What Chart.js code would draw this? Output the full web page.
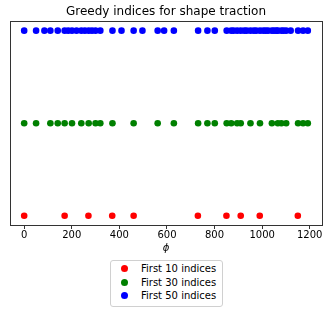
<!DOCTYPE html>
<html>
<head>
<meta charset="utf-8">
<script src="https://cdn.jsdelivr.net/npm/chart.js@4/dist/chart.umd.min.js"></script>
<style>
  html, body { margin: 0; padding: 0; background: #fff; }
  #wrap { position: relative; width: 333px; height: 311px; }
  #legend {
    position: absolute; left: 110px; top: 260px; width: 111px;
    border: 1px solid #d0d0d0; border-radius: 3px; background: #fff;
    padding: 1px 0 3px 0;
    font: 10px "DejaVu Sans", sans-serif; color: #000;
  }
  .leg-row { display: flex; align-items: center; height: 13.5px; }
  .leg-dot { width: 7px; height: 7px; border-radius: 50%; margin-left: 10px; margin-right: 13px; }
</style>
</head>
<body>
<div id="wrap">
  <canvas id="chart" width="333" height="311"></canvas>
  <div id="legend"></div>
</div>
<script>
// Greedy indices (phi values) selected for each subset
const first10 = [0, 170, 270, 370, 460, 730, 850, 910, 990, 1150];
const first30 = [0, 50, 110, 141, 170, 201, 240, 271, 300, 320, 371, 460, 561, 629, 731,
                 770, 801, 851, 870, 895, 910, 951, 991, 1041, 1066, 1081, 1101, 1151, 1172, 1192];
const first50 = [0, 50, 85, 110, 141, 170, 185, 201, 220, 240, 255, 271, 285, 300, 320,
                 371, 409, 460, 497, 561, 588, 629, 731, 770, 801, 851, 870, 880, 895, 910,
                 925, 935, 951, 965, 975, 991, 1005, 1015, 1025, 1041, 1050, 1060, 1066, 1081, 1090,
                 1101, 1120, 1151, 1172, 1192];
const seriesLabels = ['First 10 indices', 'First 30 indices', 'First 50 indices'];
const rowLevels = [1, 2, 3];
const xTicks = [0, 200, 400, 600, 800, 1000, 1200];
const colors = ['#ff0000', '#008000', '#0000ff'];

const datasets = [first10, first30, first50].map((xs, i) => ({
    label: seriesLabels[i],
    data: xs.map(x => ({ x: x, y: rowLevels[i] })),
    backgroundColor: colors[i],
    borderColor: colors[i],
    borderWidth: 0,
    pointRadius: 3.3,
    pointHoverRadius: 3.3,
}));

// full frame round the plot area
const frame = {
    id: 'frame',
    afterDraw(chart) {
        const { ctx, chartArea: a } = chart;
        ctx.save();
        ctx.strokeStyle = '#333';
        ctx.lineWidth = 1;
        ctx.strokeRect(Math.round(a.left) + 0.5, Math.round(a.top) + 0.5,
                       Math.round(a.right - a.left), Math.round(a.bottom - a.top));
        ctx.restore();
    }
};

const xMin = 0, xMax = 1192, pad = (xMax - xMin) * 0.05;

new Chart(document.getElementById('chart'), {
    type: 'scatter',
    data: { datasets },
    plugins: [frame],
    options: {
        responsive: false,
        animation: false,
        layout: { padding: { left: 10, right: 11, top: 0, bottom: 57 } },
        plugins: {
            legend: { display: false },
            tooltip: { enabled: false },
            title: {
                display: true,
                text: 'Greedy indices for shape traction',
                color: '#000',
                font: { family: 'DejaVu Sans', size: 12, weight: 'normal' },
                padding: { top: 5, bottom: 2 },
            },
        },
        scales: {
            x: {
                type: 'linear',
                min: xMin - pad,
                max: xMax + pad,
                afterBuildTicks: s => { s.ticks = xTicks.map(v => ({ value: v })); },
                ticks: {
                    color: '#000', font: { family: 'DejaVu Sans', size: 10 }, padding: 0, maxRotation: 0,
                    callback: v => String(v),
                },
                grid: { drawOnChartArea: false, drawTicks: true, tickLength: 4, color: '#333' },
                border: { display: false },
                title: {
                    display: true, text: 'ϕ', color: '#000',
                    font: { family: 'DejaVu Sans', size: 10, style: 'italic' },
                    padding: { top: 1, bottom: 0 },
                },
            },
            y: {
                display: false,
                min: 0.9,
                max: 3.1,
            },
        },
    },
});

document.getElementById('legend').innerHTML = seriesLabels.map((l, i) =>
    `<div class="leg-row"><span class="leg-dot" style="background:${colors[i]}"></span>${l}</div>`
).join('');
</script>
</body>
</html>
